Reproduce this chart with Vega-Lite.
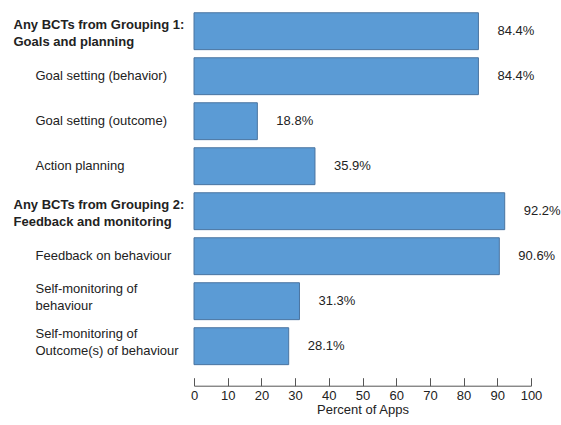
{
  "$schema": "https://vega.github.io/schema/vega-lite/v6.json",
  "autosize": "none",
  "width": 337,
  "height": 360,
  "padding": {"left": 194, "top": 8.7, "right": 30, "bottom": 56.3},
  "background": "white",
  "config": {
    "view": {"stroke": null},
    "font": "Liberation Sans",
    "axis": {"labelFont": "Liberation Sans", "titleFont": "Liberation Sans", "labelColor": "#222", "titleColor": "#222", "labelFontSize": 13, "titleFontSize": 13, "titleFontWeight": "normal", "grid": false}
  },
  "data": {
    "values": [
      {"cat": "Any BCTs from Grouping 1:|Goals and planning", "value": 84.4, "lbl": "84.4%"},
      {"cat": "Goal setting (behavior)", "value": 84.4, "lbl": "84.4%"},
      {"cat": "Goal setting (outcome)", "value": 18.8, "lbl": "18.8%"},
      {"cat": "Action planning", "value": 35.9, "lbl": "35.9%"},
      {"cat": "Any BCTs from Grouping 2:|Feedback and monitoring", "value": 92.2, "lbl": "92.2%"},
      {"cat": "Feedback on behaviour", "value": 90.6, "lbl": "90.6%"},
      {"cat": "Self-monitoring of|behaviour", "value": 31.3, "lbl": "31.3%"},
      {"cat": "Self-monitoring of|Outcome(s) of behaviour", "value": 28.1, "lbl": "28.1%"}
    ]
  },
  "layer": [
    {
      "mark": {"type": "bar", "color": "#5b9bd5", "stroke": "#4a74a0", "strokeWidth": 1},
      "encoding": {
        "y": {
          "field": "cat", "type": "nominal", "sort": null,
          "scale": {"paddingInner": 0.18, "paddingOuter": 0.09},
          "axis": {
            "orient": "left", "title": null, "domain": false, "ticks": false,
            "labelAlign": "left", "labelPadding": 181, "labelFontWeight": "bold",
            "labelLineHeight": 17, "labelLimit": 0, "labelOffset": -6,
            "labelExpr": "indexof(datum.label, 'Any BCTs') == 0 ? split(datum.label, '|') : ''"
          }
        },
        "x": {
          "field": "value", "type": "quantitative",
          "scale": {"domain": [0, 100], "nice": false},
          "axis": {
            "title": "Percent of Apps", "tickCount": 10,
            "offset": 17, "tickSize": -8, "domainColor": "#555", "tickColor": "#555",
            "labelPadding": 12, "titlePadding": 1, "labelFlush": false, "labelOverlap": false
          }
        }
      }
    },
    {
      "mark": {"type": "text", "align": "left", "baseline": "middle", "dx": 19, "fontSize": 13, "font": "Liberation Sans", "color": "#222"},
      "encoding": {
        "y": {
          "field": "cat", "type": "nominal", "sort": null,
          "axis": {
            "orient": "left", "title": null, "domain": false, "ticks": false,
            "labelAlign": "left", "labelPadding": 159,
            "labelLineHeight": 17, "labelLimit": 0,
            "labelOffset": {"condition": {"test": "indexof(datum.label, '|') >= 0", "value": -12}, "value": 0},
            "labelExpr": "indexof(datum.label, 'Any BCTs') == 0 ? '' : split(datum.label, '|')"
          }
        },
        "x": {
          "field": "value", "type": "quantitative",
          "scale": {"domain": [0, 100], "nice": false},
          "axis": {
            "title": "Percent of Apps", "tickCount": 10,
            "offset": 17, "tickSize": -8, "domainColor": "#555", "tickColor": "#555",
            "labelPadding": 12, "titlePadding": 1, "labelFlush": false, "labelOverlap": false
          }
        },
        "text": {"field": "lbl"}
      }
    }
  ],
  "resolve": {"axis": {"y": "independent"}}
}
